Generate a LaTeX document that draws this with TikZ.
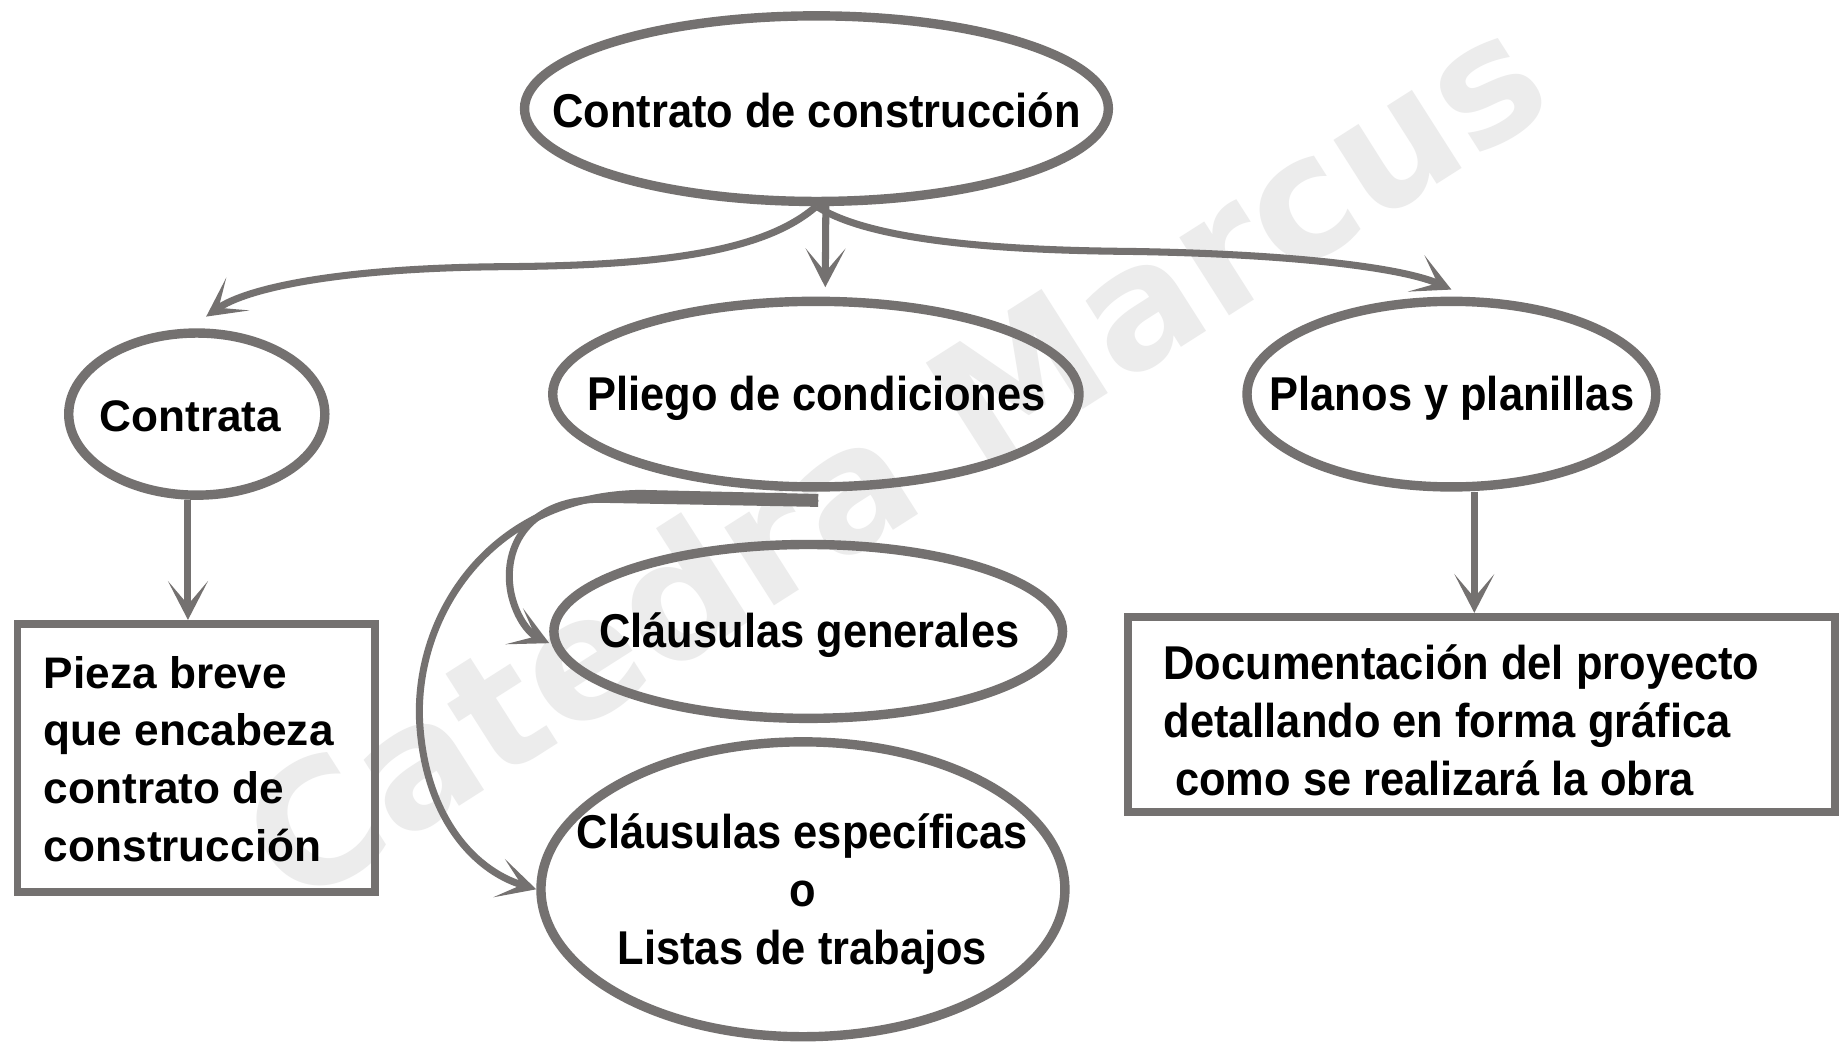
\documentclass[tikz,border=0pt]{standalone}
\usepackage{fontspec}
\setmainfont{Liberation Sans}
\newfontfamily\condfont[FakeStretch=0.915]{Liberation Sans}
\newfontfamily\wmfont{DejaVu Sans}
\usetikzlibrary{shapes.geometric,arrows.meta}
\definecolor{ln}{HTML}{747170}
\definecolor{wmc}{HTML}{ECECEC}
\begin{document}
\begin{tikzpicture}[x=0.5pt,y=-0.5pt,
  oval/.style={ellipse,draw=ln,line width=4pt,inner sep=0pt},
  cond/.style={font=\condfont\bfseries\fontsize{20.2}{24.6}\selectfont,text=black,inner sep=0pt},
  wide/.style={font=\bfseries\fontsize{18.8}{24.5}\selectfont,text=black,inner sep=0pt},
  boxst/.style={rectangle,draw=ln,line width=3.3pt,inner sep=0pt},
  conn/.style={draw=ln,line width=3pt,-{Stealth[length=16.5pt,width=17pt,inset=10pt]}},
  wmtext/.style={font=\wmfont\bfseries\fontsize{72}{72}\selectfont,text=wmc,inner sep=0pt}
]
\useasboundingbox (0,0) rectangle (1568,887);
\fill[white] (0,0) rectangle (1568,887);
\node[wmtext,rotate=32.5] (wm) at (760,388) {Catedra Marcus};

% ellipses
\node[oval,minimum width=248.5pt,minimum height=79pt] (main) at (695,92.5) {};
\node[oval,minimum width=109pt,minimum height=69pt] (contrata) at (167.5,352.5) {};
\node[oval,minimum width=224pt,minimum height=79pt] (pliego) at (694.5,335.5) {};
\node[oval,minimum width=174pt,minimum height=79pt] (planos) at (1235.5,335.5) {};
\node[oval,minimum width=216.5pt,minimum height=74pt] (gen) at (688,537.5) {};
\node[oval,minimum width=223pt,minimum height=125.5pt] (esp) at (683.5,757) {};

% boxes
\node[boxst,minimum width=152pt,minimum height=114pt] (lbox) at (167,645) {};
\node[boxst,minimum width=301pt,minimum height=83pt] (rbox) at (1261,608) {};

% texts
\node[cond] (tmain) at (695,94) {Contrato de construcción};
\node[wide] (tcontrata) at (162,354) {Contrata};
\node[cond] (tpliego) at (695,339) {Pliego de condiciones};
\node[cond] (tplanos) at (1236,339) {Planos y planillas};
\node[cond] (tgen) at (689,541) {Cláusulas generales};
\node[cond,align=center] (tesp) at (683,761) {Cláusulas específicas\\o\\Listas de trabajos};
\node[wide,align=left,anchor=west] (tl) at (37,646) {Pieza breve\\que encabeza\\contrato de\\construcción};
\node[cond,align=left,anchor=west] (tr) at (990,613) {Documentación del proyecto\\detallando en forma gráfica\\\hspace*{5pt}como se realizará la obra};

% connectors
\draw[conn] (main.south) .. controls (650,215) and (560,226) .. (430,227)
   .. controls (290,228) and (210,245) .. ([xshift=4pt,yshift=5pt]contrata.north);
\draw[conn] ([xshift=4pt]main.south) -- ([xshift=4pt,yshift=4pt]pliego.north);
\draw[conn] (main.south) .. controls (740,205) and (850,213) .. (960,214)
   .. controls (1100,216) and (1195,228) .. ([yshift=3pt]planos.north);
\coordinate (c4) at ([xshift=-3.75pt]contrata.south);
\draw[conn] (c4) -- (c4 |- lbox.north);
\coordinate (c5) at ([xshift=9.75pt]planos.south);
\draw[conn] (c5) -- (c5 |- rbox.north);
\draw[conn] ([xshift=1pt,yshift=-5pt]pliego.south) -- (510,425)
   .. controls (445,426) and (428,470) .. (435,505)
   .. controls (440,528) and (452,540) .. ([yshift=-5pt]gen.west);
\draw[conn] ([xshift=1pt,yshift=-2.5pt]pliego.south) -- (545,420)
   .. controls (420,422) and (355,520) .. (357,610)
   .. controls (360,690) and (400,740) .. (esp.west);
\end{tikzpicture}
\end{document}
